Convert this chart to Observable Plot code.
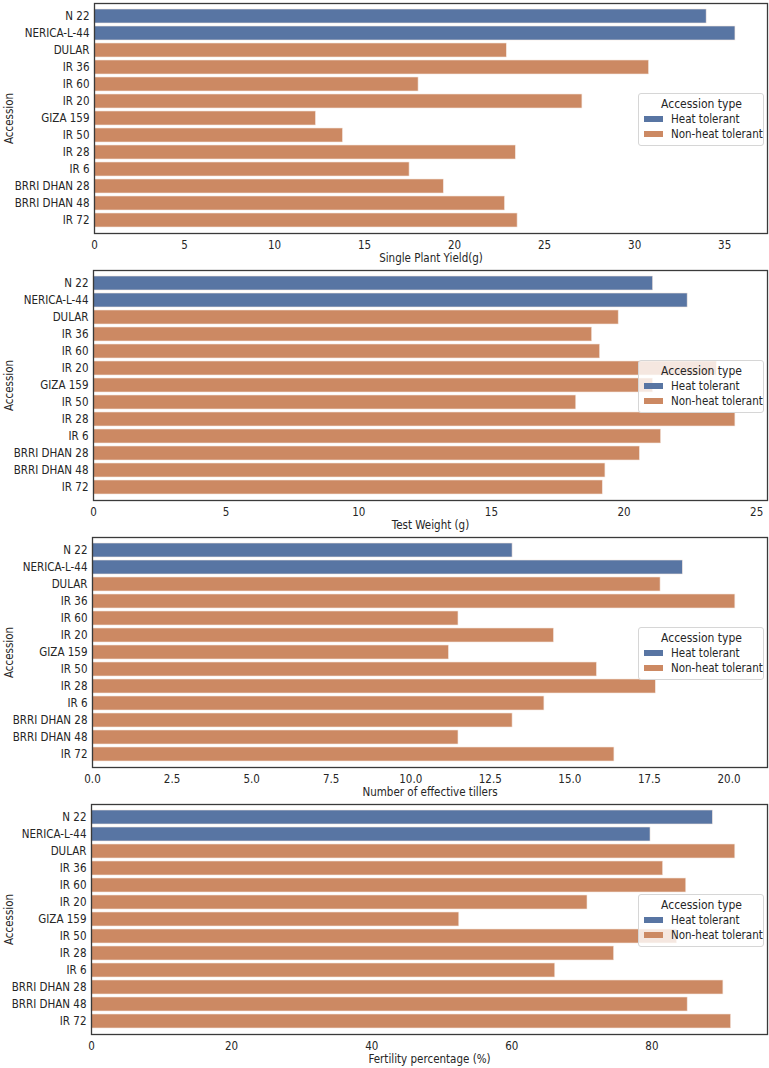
<!DOCTYPE html>
<html>
<head>
<meta charset="utf-8">
<script src="https://cdn.jsdelivr.net/npm/d3@7"></script>
<script src="https://cdn.jsdelivr.net/npm/@observablehq/plot@0.6"></script>
<style>
  html, body { margin: 0; padding: 0; background: white; }
  #charts { width: 769px; position: relative; }
  .panel { position: relative; width: 769px; height: 267px; }
  .legend {
    position: absolute; left: 638px; width: 126px; box-sizing: border-box;
    background: rgba(255,255,255,0.8); border: 1px solid #d6d6d6; border-radius: 3px;
    font-family: "DejaVu Sans Condensed", "DejaVu Sans", sans-serif; color: #262626;
    padding: 3px 3px 4px 4px; white-space: nowrap;
  }
  .legend .title { text-align: center; font-size: 12px; line-height: 15px; }
  .legend .item { display: flex; align-items: center; font-size: 11.5px; line-height: 14.5px; }
  .legend .sw { width: 19px; height: 6px; margin: 0 8px 0 1px; flex: none; }
</style>
</head>
<body>
<div id="charts"></div>
<script>
// Accessions, top to bottom
const accessions = ["N 22", "NERICA-L-44", "DULAR", "IR 36", "IR 60", "IR 20", "GIZA 159",
  "IR 50", "IR 28", "IR 6", "BRRI DHAN 28", "BRRI DHAN 48", "IR 72"];
const accessionType = ["Heat tolerant", "Heat tolerant", "Non-heat tolerant", "Non-heat tolerant",
  "Non-heat tolerant", "Non-heat tolerant", "Non-heat tolerant", "Non-heat tolerant",
  "Non-heat tolerant", "Non-heat tolerant", "Non-heat tolerant", "Non-heat tolerant", "Non-heat tolerant"];
const typeNames = ["Heat tolerant", "Non-heat tolerant"];
const typeColors = ["#5875a3", "#cc8963"];

// Trait values per accession
const singlePlantYield = [34.0, 35.6, 22.9, 30.8, 18.0, 27.1, 12.3, 13.8, 23.4, 17.5, 19.4, 22.8, 23.5];
const testWeight = [21.1, 22.4, 19.8, 18.8, 19.1, 23.5, 21.1, 18.2, 24.2, 21.4, 20.6, 19.3, 19.2];
const effectiveTillers = [13.2, 18.55, 17.85, 20.2, 11.5, 14.5, 11.2, 15.85, 17.7, 14.2, 13.2, 11.5, 16.4];
const fertility = [88.7, 79.8, 91.9, 81.6, 84.9, 70.8, 52.5, 83.6, 74.6, 66.2, 90.2, 85.1, 91.3];

// Axis ticks per panel
const yieldTicks = [0, 5, 10, 15, 20, 25, 30, 35];
const weightTicks = [0, 5, 10, 15, 20, 25];
const tillerTicks = [0, 2.5, 5, 7.5, 10, 12.5, 15, 17.5, 20];
const fertilityTicks = [0, 20, 40, 60, 80];

const font = '"DejaVu Sans Condensed", "DejaVu Sans", sans-serif';

function panel(values, label, ticks, fmt, marginLeft) {
  const data = accessions.map((a, i) => ({accession: a, type: accessionType[i], value: values[i]}));
  const max = d3.max(values);
  return Plot.plot({
    width: 769, height: 267,
    marginLeft, marginRight: 2, marginTop: 3, marginBottom: 34,
    style: {fontFamily: font, fontSize: "11.5px", color: "#262626", background: "white", overflow: "visible"},
    x: {domain: [0, max * 1.05]},
    y: {domain: accessions, paddingInner: 0.2, paddingOuter: 0.1},
    color: {domain: typeNames, range: typeColors},
    marks: [
      Plot.barX(data, {x: "value", y: "accession", fill: "type", stroke: "#f3e6df", strokeWidth: 0.6}),
      Plot.frame({stroke: "#3a3a3a", strokeWidth: 1.3}),
      Plot.axisX({ticks, tickFormat: fmt, tickSize: 0, tickPadding: 7, label,
        labelAnchor: "center", labelArrow: "none", labelOffset: 28, fontSize: 11.5}),
      Plot.axisY({tickSize: 0, tickPadding: 5, label: "Accession",
        labelAnchor: "center", labelArrow: "none", labelOffset: marginLeft - 4, fontSize: 11.5})
    ]
  });
}

function legend() {
  const box = document.createElement("div");
  box.className = "legend";
  box.style.top = "93px";
  const t = document.createElement("div");
  t.className = "title";
  t.textContent = "Accession type";
  box.appendChild(t);
  typeNames.forEach((name, i) => {
    const row = document.createElement("div");
    row.className = "item";
    const sw = document.createElement("span");
    sw.className = "sw";
    sw.style.background = typeColors[i];
    row.appendChild(sw);
    row.appendChild(document.createTextNode(name));
    box.appendChild(row);
  });
  return box;
}

const panels = [
  [singlePlantYield, "Single Plant Yield(g)", yieldTicks, d3.format("d"), 94],
  [testWeight, "Test Weight (g)", weightTicks, d3.format("d"), 93],
  [effectiveTillers, "Number of effective tillers", tillerTicks, d3.format(".1f"), 92],
  [fertility, "Fertility percentage (%)", fertilityTicks, d3.format("d"), 91]
];

const root = document.getElementById("charts");
for (const [values, label, ticks, fmt, ml] of panels) {
  const wrap = document.createElement("div");
  wrap.className = "panel";
  wrap.appendChild(panel(values, label, ticks, fmt, ml));
  wrap.appendChild(legend());
  root.appendChild(wrap);
}
</script>
</body>
</html>
